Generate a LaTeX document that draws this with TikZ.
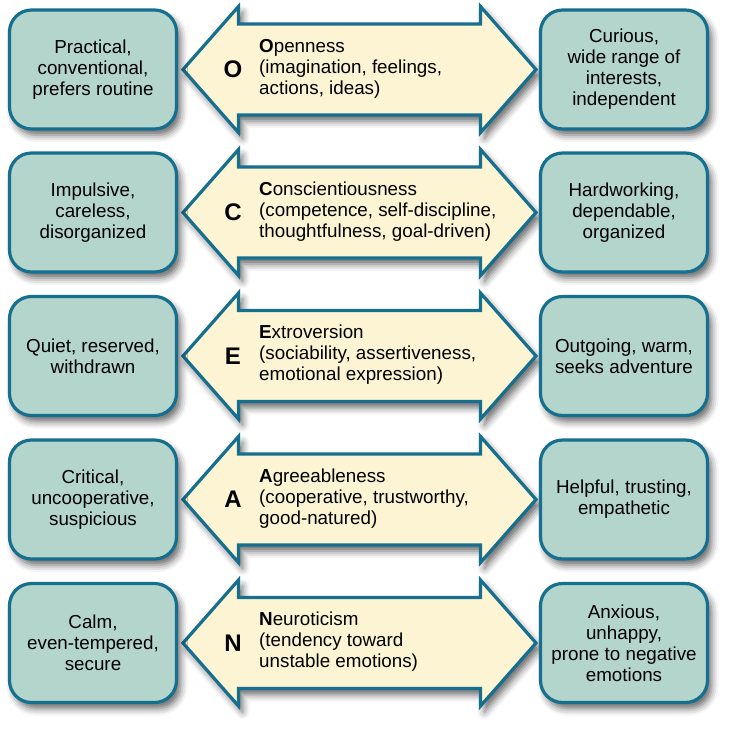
\documentclass[tikz,border=0pt]{standalone}
\usepackage{fontspec}
\setmainfont{Liberation Sans}
\usetikzlibrary{shadows.blur}
\definecolor{boxfill}{HTML}{B4D5CC}
\definecolor{edge}{HTML}{166F8F}
\definecolor{cream}{HTML}{FCF4D3}
\tikzset{
  trait/.style={draw=edge, line width=3.2pt, fill=boxfill, rounded corners=22pt,
    minimum width=167pt, minimum height=119pt, align=center, inner sep=2pt,
    font=\fontsize{18.8}{21}\selectfont,
    blur shadow={shadow xshift=4pt, shadow yshift=-6pt, shadow blur radius=7pt, shadow opacity=60}},
  twoway/.style={draw=edge, line width=3.2pt, fill=cream, line join=miter,
    blur shadow={shadow xshift=4pt, shadow yshift=-6pt, shadow blur radius=7pt, shadow opacity=60}},
  letter/.style={font=\fontsize{24}{24}\bfseries\selectfont, inner sep=0pt},
  desc/.style={anchor=west, align=left, inner sep=0pt, font=\fontsize{18.8}{21}\selectfont}
}
\newcommand{\twoarrow}[1]{%
  \draw[twoway] (183,#1) -- (238.5,#1-63) -- (238.5,#1-45.5) -- (480.5,#1-45.5) -- (480.5,#1-63)
    -- (536,#1) -- (480.5,#1+63) -- (480.5,#1+45.5) -- (238.5,#1+45.5) -- (238.5,#1+63) -- cycle;}
\begin{document}
\begin{tikzpicture}[x=1pt, y=-1pt]
\useasboundingbox (0,0) rectangle (741,737);
% arrows
\twoarrow{69.5}
\twoarrow{212.5}
\twoarrow{356}
\twoarrow{499.5}
\twoarrow{643}
% row O
\node[trait] (l1) at (93,69.5) {Practical,\\conventional,\\prefers routine};
\node[trait] (r1) at (624,69.5) {Curious,\\wide range of\\interests,\\independent};
\node[letter] (k1) at (233,69.5) {O};
\node[desc] (d1) at (259,68.5) {\textbf{O}penness\\(imagination, feelings,\\actions, ideas)};
% row C
\node[trait] (l2) at (93,212.5) {Impulsive,\\careless,\\disorganized};
\node[trait] (r2) at (624,212.5) {Hardworking,\\dependable,\\organized};
\node[letter] (k2) at (233,212.5) {C};
\node[desc] (d2) at (259,211.5) {\textbf{C}onscientiousness\\(competence, self-discipline,\\thoughtfulness, goal-driven)};
% row E
\node[trait] (l3) at (93,356) {Quiet, reserved,\\withdrawn};
\node[trait] (r3) at (624,356) {Outgoing, warm,\\seeks adventure};
\node[letter] (k3) at (233,356) {E};
\node[desc] (d3) at (259,355) {\textbf{E}xtroversion\\(sociability, assertiveness,\\emotional expression)};
% row A
\node[trait] (l4) at (93,499.5) {Critical,\\uncooperative,\\suspicious};
\node[trait] (r4) at (624,499.5) {Helpful, trusting,\\empathetic};
\node[letter] (k4) at (233,499.5) {A};
\node[desc] (d4) at (259,498.5) {\textbf{A}greeableness\\(cooperative, trustworthy,\\good-natured)};
% row N
\node[trait] (l5) at (93,643) {Calm,\\even-tempered,\\secure};
\node[trait] (r5) at (624,643) {Anxious,\\unhappy,\\prone to negative\\emotions};
\node[letter] (k5) at (233,643) {N};
\node[desc] (d5) at (259,642) {\textbf{N}euroticism\\(tendency toward\\unstable emotions)};
\end{tikzpicture}
\end{document}
